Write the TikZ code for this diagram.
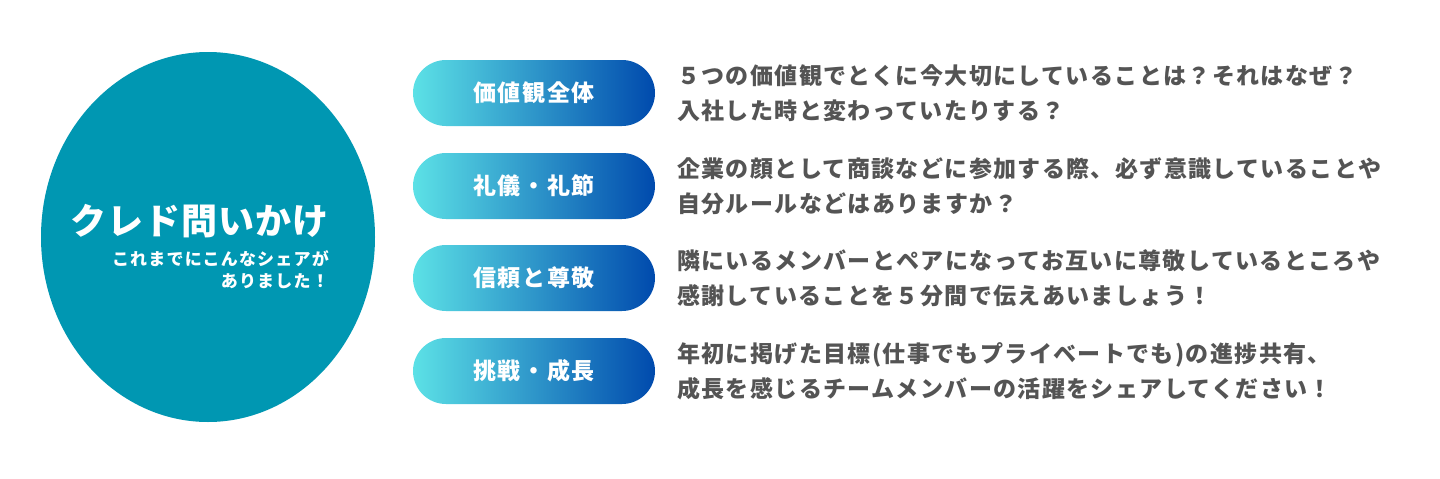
\documentclass[tikz,border=0pt]{standalone}
\usepackage{fontspec}
\newfontfamily\jpd[LetterSpace=6]{Noto Sans CJK JP}
\newfontfamily\jpp[LetterSpace=7]{Noto Sans CJK JP}
\newfontfamily\jpt[LetterSpace=3]{Noto Sans CJK JP}
\newfontfamily\jps[LetterSpace=7]{Noto Sans CJK JP}
\definecolor{teal}{HTML}{0097B2}
\definecolor{gl}{HTML}{5CE1E6}
\definecolor{gr}{HTML}{004AAD}
\definecolor{txt}{HTML}{545454}
\tikzset{
  pill/.style={rounded corners=33pt, minimum width=242pt, minimum height=66pt,
    left color=gl, right color=gr, text=white, inner sep=0pt,
    font=\jpp\bfseries\fontsize{23}{28}\selectfont},
  desc/.style={anchor=west, align=left, text=txt, inner sep=0pt,
    font=\jpd\bfseries\fontsize{23}{35}\selectfont}
}
\begin{document}
\begin{tikzpicture}[x=1pt,y=-1pt]
\useasboundingbox (0,0) rectangle (1440,479);
\fill[white] (0,0) rectangle (1440,479);
\fill[teal] (208,237) ellipse [x radius=167, y radius=185];
\node[anchor=east, text=white, inner sep=0pt, font=\jpt\bfseries\fontsize{36}{40}\selectfont] (title) at (329,221) {クレド問いかけ};
\node[anchor=north east, align=right, text=white, inner sep=0pt, font=\jps\bfseries\fontsize{17}{22}\selectfont] (sub) at (329,250) {これまでにこんなシェアが\\ありました！};

\node[pill] (p1) at (534,93) {価値観全体};
\node[pill] (p2) at (534,186) {礼儀・礼節};
\node[pill] (p3) at (534,278) {信頼と尊敬};
\node[pill] (p4) at (534,371) {挑戦・成長};

\node[desc] (d1) at (677,93) {５つの価値観でとくに今大切にしていることは？それはなぜ？\\入社した時と変わっていたりする？};
\node[desc] (d2) at (677,186) {企業の顔として商談などに参加する際、必ず意識していることや\\自分ルールなどはありますか？};
\node[desc] (d3) at (677,278) {隣にいるメンバーとペアになってお互いに尊敬しているところや\\感謝していることを５分間で伝えあいましょう！};
\node[desc] (d4) at (677,371) {年初に掲げた目標(仕事でもプライベートでも)の進捗共有、\\成長を感じるチームメンバーの活躍をシェアしてください！};
\end{tikzpicture}
\end{document}
